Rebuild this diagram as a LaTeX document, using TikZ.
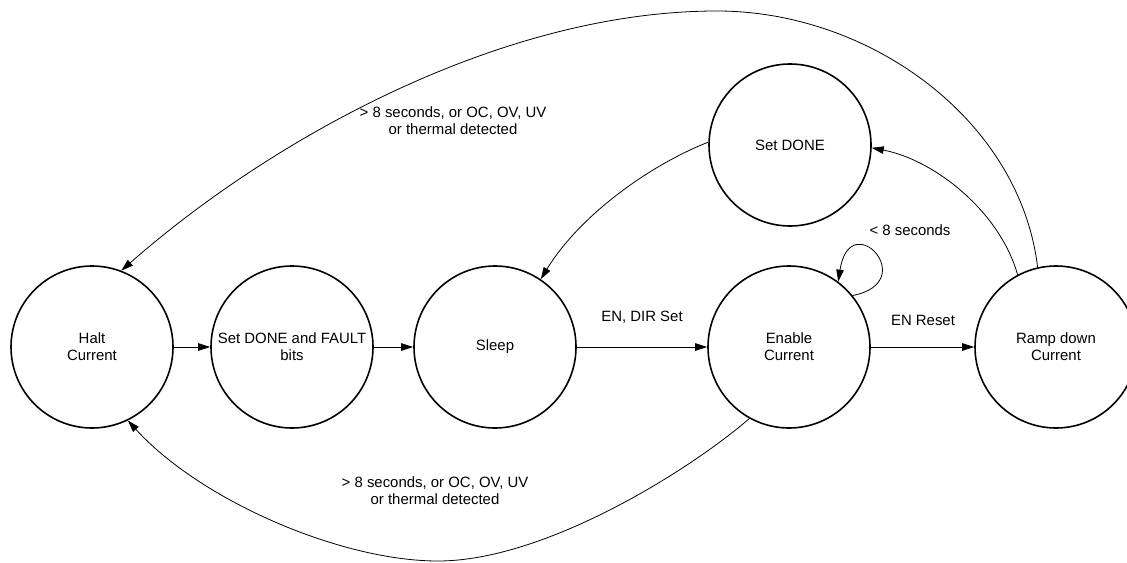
\documentclass[tikz,border=0pt]{standalone}
\usepackage{fontspec}
\setmainfont{Liberation Sans}
\usetikzlibrary{arrows.meta}
\tikzset{
  state/.style={circle, draw=black, line width=1.2pt, minimum size=121.5pt, inner sep=0pt, align=center, font=\fontsize{11.2}{12.75}\selectfont},
  conn/.style={draw=black, line width=0.6pt, -{Triangle[length=9pt,width=5.6pt]}},
  lbl/.style={align=center, inner sep=0pt, font=\fontsize{11.2}{12.75}\selectfont}
}
\begin{document}
\begin{tikzpicture}[x=0.75pt,y=-0.75pt]
\useasboundingbox (0,0) rectangle (1127,563);
\clip (0,0) rectangle (1127,563);
\fill[white] (0,0) rectangle (1127,563);

\node[state] (halt) at (92,347) {Halt\\Current};
\node[state] (sdf) at (292,347) {Set DONE and FAULT\\bits};
\node[state] (sleep) at (495,347) {Sleep};
\node[state] (enable) at (789,347) {Enable\\Current};
\node[state] (setdone) at (790,145) {Set DONE};
\node[state] (ramp) at (1056,347) {Ramp down\\Current};

\coordinate (topmid) at (717,11);
\coordinate (botmid) at (438,561);

\draw[conn] (halt.east) -- (sdf.west);
\draw[conn] (sdf.east) -- (sleep.west);
\draw[conn] (sleep.east) -- (enable.west);
\draw[conn] (enable.east) -- (ramp.west);

\draw[conn] (enable.39) .. controls (922,282) and (850,205) .. (enable.53);
\draw[conn] (ramp.118) .. controls (1000,212) and (935,160) .. (setdone.358);
\draw[conn] (setdone.178) .. controls (650,165) and (580,215) .. (sleep.56);
\draw[conn] (ramp.103) .. controls (1020,120) and (870,11) .. (topmid) .. controls (500,11) and (270,140) .. (halt.69);
\draw[conn] (enable.241) .. controls (690,470) and (545,561) .. (botmid) .. controls (340,561) and (200,500) .. (halt.296);

\node[lbl] (l1) at (642,317) {EN, DIR Set};
\node[lbl] (l2) at (923,320) {EN Reset};
\node[lbl] (l3) at (910,230) {< 8 seconds};
\node[lbl] (l4) at (453,121) {> 8 seconds, or OC, OV, UV\\or thermal detected};
\node[lbl] (l5) at (435,491) {> 8 seconds, or OC, OV, UV\\or thermal detected};
\end{tikzpicture}
\end{document}
